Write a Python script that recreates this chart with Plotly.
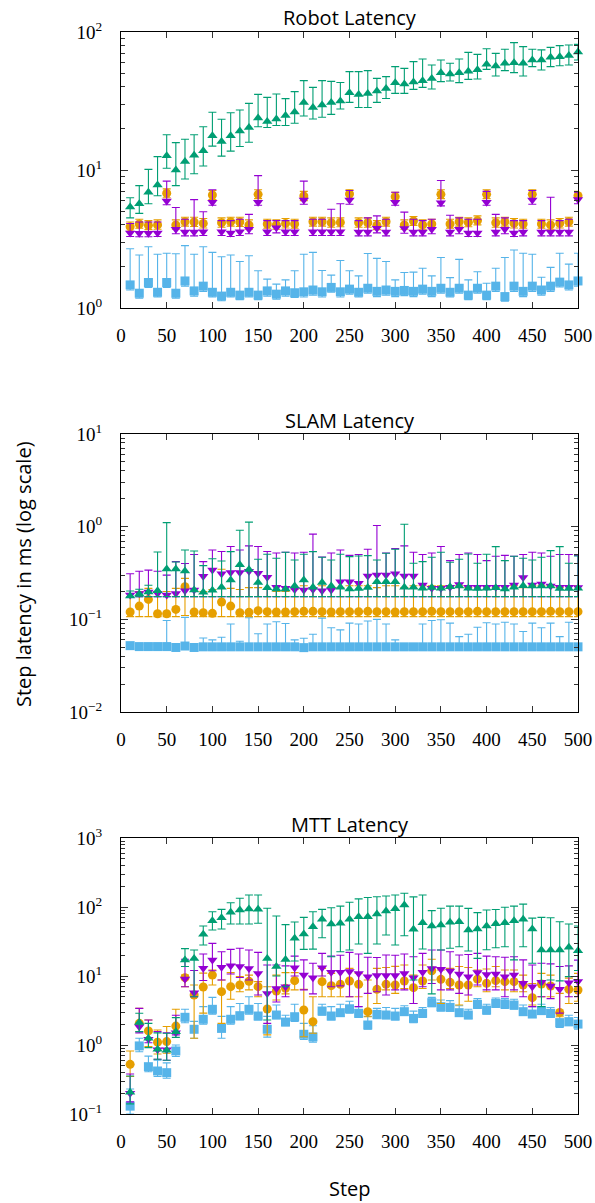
import plotly.graph_objects as go

STEPS = [10, 20, 30, 40, 50, 60, 70, 80, 90, 100, 110, 120, 130, 140, 150, 160, 170, 180, 190, 200,
         210, 220, 230, 240, 250, 260, 270, 280, 290, 300, 310, 320, 330, 340, 350, 360, 370, 380, 390, 400,
         410, 420, 430, 440, 450, 460, 470, 480, 490, 500]
X_TICKS = [0, 50, 100, 150, 200, 250, 300, 350, 400, 450, 500]
TITLES = ["Robot Latency", "SLAM Latency", "MTT Latency"]
Y_LABEL = "Step latency in ms (log scale)"
X_LABEL = "Step"

# ---------------- Robot Latency ----------------
ROBOT_GREEN = [5.4, 5.7, 6.9, 7.8, 12.7, 10, 11.5, 12.8, 13.8, 17.7, 16.1, 17.7, 19.2, 20.3, 23.8, 22.5, 23.4, 24.8, 26.3, 30.8,
               28.4, 29.6, 30.9, 31.6, 36.3, 35.2, 35.9, 37.3, 39.0, 42.9, 42.0, 43.4, 44.4, 46.1, 50.7, 49.6, 50.7, 51.9, 53.3, 58.3,
               56.7, 59.3, 59.9, 59.3, 62.7, 62.7, 65.5, 66.2, 67.7, 71.6]
ROBOT_GREEN_HI = [6.3, 7.7, 10.1, 12.5, 18, 15.8, 16.7, 18, 20.6, 26.2, 23.3, 26, 27.2, 30.4, 35.3, 33.6, 35.5, 32.9, 37, 44.4,
                  39.7, 44.4, 43.9, 43.1, 51.6, 51.6, 52.5, 46.1, 47.5, 56.1, 54.5, 61, 63.7, 57.7, 62.7, 59.3, 63.7, 71.2, 68.9, 75.7,
                  70, 75, 83.7, 78.3, 75, 74.2, 77.4, 79.6, 80.5, 81.4]
ROBOT_GREEN_LO = [4.5, 4.85, 5.7, 6.5, 10.3, 7.7, 8.6, 9.4, 10.7, 14.9, 12.6, 13.7, 14.8, 15.9, 20.6, 20.3, 21, 21, 21.8, 24.6,
                  23.4, 24.1, 25.3, 27.7, 30.9, 28.4, 28.4, 30.9, 33, 35.9, 35.9, 38.4, 39.7, 38.6, 43.7, 44.1, 43, 45.4, 45.6, 53.6,
                  48, 52.5, 50.8, 48, 56.1, 53, 56.1, 57, 57.7, 62.7]

ROBOT_ORANGE = [3.88, 4.06, 3.97, 4.0, 6.78, 4.0, 4.22, 4.2, 4.1, 6.59, 4.15, 4.22, 4.2, 4.0, 6.66, 4.06, 4.0, 4.1, 4.06, 6.48,
                4.22, 4.22, 4.15, 4.17, 6.7, 4.15, 4.15, 3.97, 4.22, 6.41, 4.0, 4.27, 4.0, 4.06, 6.66, 4.06, 4.22, 4.17, 4.3, 6.66,
                4.15, 4.22, 4.1, 4.06, 6.66, 4.06, 4.0, 4.1, 4.22, 6.52]
ROBOT_ORANGE_HI = [4.2, 4.4, 4.3, 4.35, 7.3, 4.35, 4.55, 4.55, 4.45, 7.1, 4.5, 4.55, 4.55, 4.35, 7.2, 4.4, 4.35, 4.45, 4.4, 7.0,
                   4.55, 4.55, 4.5, 4.5, 7.2, 4.5, 4.5, 4.3, 4.55, 6.9, 4.35, 4.6, 4.35, 4.4, 7.2, 4.4, 4.55, 4.5, 4.65, 7.2,
                   4.5, 4.55, 4.45, 4.4, 7.2, 4.4, 4.35, 4.45, 4.55, 7.0]
ROBOT_ORANGE_LO = [3.6, 3.78, 3.7, 3.72, 6.3, 3.72, 3.92, 3.9, 3.8, 6.1, 3.85, 3.92, 3.9, 3.72, 6.2, 3.78, 3.72, 3.8, 3.78, 6.0,
                   3.92, 3.92, 3.85, 3.88, 6.2, 3.85, 3.85, 3.7, 3.92, 5.95, 3.72, 3.97, 3.72, 3.78, 6.2, 3.78, 3.92, 3.88, 4.0, 6.2,
                   3.85, 3.92, 3.8, 3.78, 6.2, 3.78, 3.72, 3.8, 3.92, 6.05]

ROBOT_PURPLE = [3.5, 3.48, 3.48, 3.5, 5.96, 3.72, 3.55, 3.55, 3.57, 5.84, 3.57, 3.5, 3.57, 3.72, 5.84, 3.57, 3.82, 3.57, 3.57, 6.06,
                3.57, 3.57, 3.57, 3.57, 6.06, 3.55, 3.55, 3.78, 3.55, 5.84, 3.76, 3.55, 3.55, 3.72, 5.8, 3.55, 3.72, 3.5, 3.5, 5.84,
                3.55, 3.72, 3.5, 3.55, 6.06, 3.55, 3.55, 3.55, 3.55, 6.1]
ROBOT_PURPLE_HI = [4.1, 4.2, 4.2, 4.2, 8.3, 5.35, 4.4, 6.1, 4.98, 7.2, 4.3, 4.3, 4.4, 4.77, 9.1, 4.3, 4.3, 4.3, 4.3, 8.3,
                   4.4, 4.4, 5.2, 5.7, 7.1, 4.3, 4.5, 4.65, 4.4, 6.9, 4.95, 4.4, 4.3, 4.4, 8.4, 4.7, 4.5, 4.4, 4.4, 7.0,
                   4.77, 4.5, 4.3, 4.3, 7.1, 4.3, 6.35, 4.3, 4.4, 6.9]
ROBOT_PURPLE_LO = [3.3, 3.28, 3.28, 3.3, 5.6, 3.45, 3.33, 3.33, 3.35, 5.55, 3.35, 3.3, 3.35, 3.45, 5.55, 3.35, 3.5, 3.35, 3.35, 5.65,
                   3.35, 3.35, 3.35, 3.35, 5.65, 3.33, 3.33, 3.5, 3.33, 5.55, 3.48, 3.33, 3.33, 3.45, 5.5, 3.33, 3.45, 3.3, 3.3, 5.55,
                   3.33, 3.45, 3.3, 3.33, 5.65, 3.33, 3.33, 3.33, 3.33, 5.7]

ROBOT_BLUE = [1.47, 1.28, 1.53, 1.30, 1.53, 1.28, 1.57, 1.33, 1.44, 1.30, 1.22, 1.30, 1.24, 1.30, 1.24, 1.33, 1.26, 1.33, 1.29, 1.31,
              1.35, 1.31, 1.41, 1.31, 1.37, 1.30, 1.39, 1.32, 1.35, 1.32, 1.34, 1.32, 1.37, 1.32, 1.39, 1.30, 1.39, 1.24, 1.39, 1.24,
              1.44, 1.21, 1.44, 1.32, 1.44, 1.35, 1.44, 1.54, 1.47, 1.57]
ROBOT_BLUE_HI = [2.69, 2.42, 2.78, 2.45, 2.49, 2.47, 2.83, 2.45, 2.78, 2.53, 2.35, 2.42, 2.17, 2.39, 1.86, 1.62, 1.49, 1.6, 1.86, 2.45,
                 2.53, 1.87, 1.73, 2.21, 1.86, 1.71, 2.48, 2.29, 2.17, 1.6, 1.81, 1.82, 1.94, 1.71, 2.32, 1.66, 2.25, 1.6, 1.83, 1.51,
                 1.94, 2.32, 2.63, 2.49, 2.45, 1.67, 1.97, 2.49, 2.08, 2.49]
ROBOT_BLUE_LO = [1.35, 1.18, 1.41, 1.2, 1.41, 1.18, 1.44, 1.22, 1.32, 1.2, 1.13, 1.2, 1.15, 1.2, 1.15, 1.22, 1.16, 1.22, 1.19, 1.2,
                 1.24, 1.2, 1.3, 1.2, 1.26, 1.2, 1.28, 1.21, 1.24, 1.21, 1.23, 1.21, 1.26, 1.21, 1.28, 1.2, 1.28, 1.15, 1.28, 1.15,
                 1.32, 1.12, 1.32, 1.21, 1.32, 1.24, 1.32, 1.42, 1.35, 1.44]

# ---------------- SLAM Latency ----------------
SLAM_GREEN = [0.179, 0.188, 0.197, 0.204, 0.349, 0.349, 0.333, 0.207, 0.196, 0.206, 0.222, 0.266, 0.389, 0.346, 0.249, 0.219, 0.213, 0.213, 0.229, 0.266,
              0.222, 0.249, 0.229, 0.222, 0.213, 0.215, 0.22, 0.255, 0.255, 0.255, 0.222, 0.222, 0.217, 0.22, 0.217, 0.225, 0.229, 0.217, 0.215, 0.217,
              0.219, 0.213, 0.222, 0.231, 0.229, 0.229, 0.229, 0.215, 0.215, 0.217]
SLAM_GREEN_HI = [0.202, 0.211, 0.233, 0.533, 1.105, 0.416, 0.56, 0.547, 0.38, 0.45, 0.426, 0.538, 0.914, 1.12, 0.445, 0.503, 0.456, 0.529, 0.437, 0.503,
                 0.538, 0.467, 0.437, 0.503, 0.475, 0.483, 0.487, 0.437, 0.516, 0.57, 1.06, 0.403, 0.42, 0.467, 0.529, 0.413, 0.445, 0.507, 0.403, 0.503,
                 0.609, 0.43, 0.479, 0.456, 0.437, 0.467, 0.551, 0.609, 0.403, 0.483]
SLAM_GREEN_LO = [0.172, 0.175, 0.176, 0.176, 0.176, 0.176, 0.176, 0.176, 0.176, 0.176, 0.176, 0.176, 0.176, 0.176, 0.176, 0.176, 0.176, 0.176, 0.176, 0.176,
                 0.176, 0.176, 0.176, 0.176, 0.176, 0.176, 0.176, 0.176, 0.176, 0.176, 0.176, 0.176, 0.176, 0.176, 0.176, 0.176, 0.176, 0.176, 0.176, 0.176,
                 0.176, 0.176, 0.176, 0.176, 0.176, 0.176, 0.176, 0.176, 0.176, 0.176]

SLAM_ORANGE = [0.12, 0.139, 0.164, 0.115, 0.115, 0.128, 0.225, 0.12, 0.118, 0.116, 0.154, 0.139, 0.118, 0.119, 0.124, 0.121, 0.12, 0.12, 0.121, 0.122,
               0.122, 0.121, 0.12, 0.121, 0.121, 0.121, 0.122, 0.121, 0.121, 0.12, 0.121, 0.121, 0.121, 0.122, 0.121, 0.121, 0.121, 0.121, 0.122, 0.121,
               0.121, 0.121, 0.121, 0.121, 0.121, 0.121, 0.122, 0.121, 0.121, 0.121]
SLAM_ORANGE_HI = [0.19, 0.2, 0.216, 0.2, 0.2, 0.216, 0.277, 0.2, 0.2, 0.21, 0.347, 0.216, 0.21, 0.22, 0.22, 0.21, 0.2, 0.2, 0.21, 0.23,
                  0.22, 0.23, 0.22, 0.22, 0.23, 0.23, 0.23, 0.22, 0.23, 0.23, 0.22, 0.23, 0.23, 0.23, 0.23, 0.23, 0.23, 0.22, 0.23, 0.23,
                  0.22, 0.23, 0.23, 0.22, 0.23, 0.23, 0.23, 0.22, 0.23, 0.23]
SLAM_ORANGE_LO = [0.107, 0.107, 0.107, 0.107, 0.107, 0.107, 0.11, 0.107, 0.107, 0.107, 0.107, 0.107, 0.107, 0.107, 0.107, 0.107, 0.107, 0.107, 0.107, 0.107,
                  0.107, 0.107, 0.107, 0.107, 0.107, 0.107, 0.107, 0.107, 0.107, 0.107, 0.107, 0.107, 0.107, 0.107, 0.107, 0.107, 0.107, 0.107, 0.107, 0.107,
                  0.107, 0.107, 0.107, 0.107, 0.107, 0.107, 0.107, 0.107, 0.107, 0.107]

SLAM_PURPLE = [0.183, 0.19, 0.197, 0.19, 0.183, 0.19, 0.204, 0.207, 0.291, 0.34, 0.311, 0.32, 0.32, 0.33, 0.315, 0.284, 0.222, 0.217, 0.21, 0.207,
               0.21, 0.204, 0.207, 0.255, 0.255, 0.245, 0.294, 0.3, 0.3, 0.31, 0.294, 0.294, 0.235, 0.217, 0.217, 0.222, 0.238, 0.222, 0.222, 0.222,
               0.222, 0.222, 0.235, 0.282, 0.235, 0.24, 0.229, 0.222, 0.222, 0.22]
SLAM_PURPLE_HI = [0.31, 0.33, 0.34, 0.33, 0.30, 0.42, 0.40, 0.5, 0.42, 0.56, 0.54, 0.61, 0.56, 0.62, 0.61, 0.54, 0.52, 0.53, 0.52, 0.53,
                  0.83, 0.47, 0.52, 0.56, 0.49, 0.5, 0.57, 1.03, 0.52, 0.58, 0.62, 0.53, 0.5, 0.52, 0.61, 0.43, 0.5, 0.52, 0.5, 0.43,
                  0.48, 0.49, 0.48, 0.5, 0.53, 0.52, 0.48, 0.5, 0.5, 0.49]
SLAM_PURPLE_LO = [0.175, 0.176, 0.176, 0.176, 0.176, 0.176, 0.176, 0.176, 0.176, 0.176, 0.176, 0.176, 0.176, 0.176, 0.176, 0.176, 0.176, 0.176, 0.176, 0.176,
                  0.176, 0.176, 0.176, 0.176, 0.176, 0.176, 0.176, 0.176, 0.176, 0.176, 0.176, 0.176, 0.176, 0.176, 0.176, 0.176, 0.176, 0.176, 0.176, 0.176,
                  0.176, 0.176, 0.176, 0.176, 0.176, 0.176, 0.176, 0.176, 0.176, 0.176]

SLAM_BLUE = [0.052, 0.0508, 0.0508, 0.0508, 0.0508, 0.0497, 0.0515, 0.0497, 0.0505, 0.0505, 0.0505, 0.0505, 0.0505, 0.0505, 0.0505, 0.0505, 0.0505, 0.0505, 0.0505, 0.0495,
             0.0505, 0.0505, 0.0505, 0.0505, 0.0505, 0.0505, 0.0505, 0.0505, 0.0505, 0.0505, 0.0505, 0.0505, 0.0505, 0.0505, 0.0505, 0.0505, 0.0505, 0.0505, 0.0505, 0.0505,
             0.0505, 0.0505, 0.0505, 0.0505, 0.0505, 0.0505, 0.0505, 0.0505, 0.0505, 0.0505]
SLAM_BLUE_HI = [0.055, 0.054, 0.054, 0.054, 0.097, 0.054, 0.105, 0.052, 0.063, 0.06, 0.064, 0.089, 0.058, 0.104, 0.07, 0.089, 0.094, 0.09, 0.06, 0.0625,
                0.069, 0.103, 0.081, 0.077, 0.091, 0.089, 0.096, 0.1, 0.089, 0.06, 0.053, 0.053, 0.089, 0.097, 0.099, 0.091, 0.065, 0.069, 0.082, 0.092,
                0.089, 0.093, 0.089, 0.074, 0.091, 0.081, 0.091, 0.065, 0.093, 0.053]
SLAM_BLUE_LO = [0.048, 0.047, 0.047, 0.047, 0.047, 0.046, 0.048, 0.046, 0.047, 0.047, 0.047, 0.047, 0.047, 0.047, 0.047, 0.047, 0.047, 0.047, 0.047, 0.046,
                0.047, 0.047, 0.047, 0.047, 0.047, 0.047, 0.047, 0.047, 0.047, 0.047, 0.047, 0.047, 0.047, 0.047, 0.047, 0.047, 0.047, 0.047, 0.047, 0.047,
                0.047, 0.047, 0.047, 0.047, 0.047, 0.047, 0.047, 0.047, 0.047, 0.047]

# ---------------- MTT Latency ----------------
MTT_GREEN = [0.206, 2.11, 1.25, 0.865, 0.837, 1.56, 17.1, 18, 40.2, 63.4, 70, 83.7, 90.5, 93.6, 93, 18, 13.7, 17.4, 35.2, 40.6,
             51.9, 66.2, 56.7, 58, 66.2, 72.4, 72.4, 79.2, 87.5, 94.6, 107, 47.5, 59.3, 53, 54.8, 60, 61.3, 46.4, 48, 53,
             57.3, 59.3, 63.4, 66.2, 48, 23.8, 23.8, 23.8, 26, 23.3]
MTT_GREEN_HI = [0.355, 2.88, 2.06, 1.5, 1.48, 2.49, 24.9, 23.8, 53, 85.5, 92.5, 115, 134, 149, 149, 95.7, 74, 55.5, 60.6, 70.8,
                85.5, 92.5, 97.7, 103, 117, 131, 137, 141, 144, 149, 158, 140, 149, 88.5, 95.7, 103, 103, 95.5, 82.8, 90.5,
                92, 99, 103, 110, 69, 70.7, 70, 61, 56.7, 53]
MTT_GREEN_LO = [0.14, 1.56, 0.915, 0.62, 0.6, 1.29, 13.7, 5.0, 28.1, 46.4, 48, 56.7, 56.7, 56.7, 58, 2.3, 10, 7, 16.5, 24.3,
                24.5, 35.9, 19, 22.5, 23.8, 29.1, 21.3, 29.1, 39.3, 28.1, 38.4, 8.75, 24.6, 5.5, 23.8, 25.2, 26.6, 23, 18, 24,
                25.7, 26.6, 17.1, 26.6, 15.3, 3.6, 8.75, 8.5, 9.8, 12]

MTT_ORANGE = [0.525, 2.06, 1.6, 1.1, 1.12, 1.88, 9.46, 5.3, 6.93, 10.3, 5.93, 7.0, 7.41, 8.37, 7.0, 3.32, 6.06, 6.63, 8.56, 3.21,
              2.18, 8.28, 7.24, 7.57, 8.47, 7.57, 3.04, 6.41, 7.57, 7.41, 8.47, 6.78, 8.47, 11.9, 8.95, 8.1, 7.41, 7.41, 9.0, 7.83,
              8.56, 8.28, 8.28, 7.41, 4.85, 7.66, 7.16, 2.97, 6.41, 6.27]
MTT_ORANGE_HI = [0.82, 3.4, 2.3, 1.65, 1.85, 3.3, 10.3, 7.4, 11, 12.2, 8.75, 11.2, 9.8, 10.3, 8.3, 7, 10.3, 11.2, 11.2, 6.4,
                 5, 12.9, 10.9, 12, 12.9, 10.9, 8.75, 12.9, 13.3, 13.8, 14.4, 10.3, 14.4, 17.5, 12.2, 12.9, 13.7, 13.3, 12.2, 12.6,
                 13.7, 12.2, 12.2, 10.3, 7.8, 10.9, 10.3, 5.6, 9.3, 10.9]
MTT_ORANGE_LO = [0.35, 1.56, 0.95, 0.74, 0.76, 1.48, 7, 1.25, 2.9, 7.4, 2.06, 4.6, 5.9, 6.3, 5, 1.4, 4.5, 5.5, 6.3, 1.32,
                 1.48, 5, 5, 5, 5, 5, 2.57, 4.0, 6.3, 5.6, 6.6, 4.0, 6.6, 8.75, 4.0, 6.6, 3.8, 4.3, 7.0, 5.9,
                 7.0, 6.3, 5.9, 5.9, 3.8, 5, 5, 2.57, 4.0, 4.3]

MTT_PURPLE = [0.2, 1.84, 1.21, 0.85, 0.85, 1.51, 9.05, 5.73, 12.9, 17.1, 13.4, 14.1, 13.7, 12.8, 10.9, 5.6, 6.6, 7.0, 13.2, 10.3,
              9.46, 13.2, 11.3, 11.3, 11.6, 10.9, 9.78, 10.2, 10.2, 10.2, 10.9, 9.46, 11.3, 12.8, 12.5, 11.8, 10.7, 9.78, 11.2, 10.5,
              10.7, 9.78, 10.3, 7.83, 7.0, 8.1, 7.16, 6.41, 8.0, 8.3]
MTT_PURPLE_HI = [0.38, 3.4, 2.3, 1.56, 1.5, 2.7, 17.5, 12, 20.8, 29.7, 22.5, 24.3, 25.2, 23.8, 22, 14.4, 14.4, 14, 19.4, 17.1,
                 15.3, 21.3, 19.4, 20, 22, 20.8, 18.7, 18.5, 20.2, 20, 20.8, 19, 21.3, 23.8, 23.8, 22.5, 20.2, 20.5, 21.3, 19.4,
                 19, 18.7, 19, 17.1, 14.4, 15.3, 15, 13.7, 14, 17]
MTT_PURPLE_LO = [0.15, 1.5, 1.08, 0.62, 0.6, 1.4, 7, 5, 8.6, 11.9, 8.75, 10.7, 9.5, 8.75, 5.3, 2.06, 4.2, 5, 10, 6.3,
                 5.5, 10, 7, 7.2, 5, 3.6, 5.6, 5.9, 5.3, 6.3, 6.3, 4.0, 7, 7.8, 6.3, 6.3, 5.6, 5.3, 7.4, 6.3,
                 6.3, 5.0, 6.3, 5.0, 3.6, 5.0, 4.7, 2.9, 5.0, 5.0]

MTT_BLUE = [0.13, 0.97, 0.485, 0.42, 0.397, 0.82, 2.52, 1.69, 2.36, 3.29, 1.74, 2.36, 2.66, 3.29, 2.63, 1.69, 2.72, 2.15, 2.57, 1.43,
            1.31, 3.11, 2.63, 2.94, 3.35, 2.88, 1.95, 2.78, 2.72, 2.63, 3.04, 2.43, 2.88, 4.11, 3.59, 3.51, 2.94, 2.72, 3.88, 3.21,
            4.02, 3.93, 3.8, 3.04, 2.81, 3.15, 2.88, 2.11, 2.18, 2.01]
MTT_BLUE_HI = [0.23, 1.25, 0.69, 0.6, 0.55, 1.0, 3.3, 2.2, 3.6, 4.9, 2.6, 3.6, 4.0, 5.0, 4.0, 2.6, 3.8, 2.7, 3.9, 2.06,
               1.9, 3.9, 3.6, 3.9, 4.3, 3.6, 2.6, 3.4, 3.5, 3.4, 3.7, 3.1, 3.5, 4.9, 4.5, 4.4, 3.7, 3.3, 4.7, 3.9,
               4.8, 4.7, 4.6, 3.8, 3.6, 3.9, 3.5, 2.7, 2.7, 2.5]
MTT_BLUE_LO = [0.1, 0.8, 0.41, 0.35, 0.33, 0.68, 2.1, 1.25, 2.0, 2.8, 1.25, 2.0, 2.3, 2.8, 2.3, 1.3, 2.4, 1.9, 2.2, 1.2,
               1.1, 2.7, 2.3, 2.6, 2.9, 2.5, 1.7, 2.4, 2.4, 2.3, 2.7, 2.1, 2.5, 3.6, 3.1, 3.1, 2.6, 2.4, 3.4, 2.8,
               3.5, 3.4, 3.3, 2.7, 2.5, 2.8, 2.5, 1.8, 1.9, 1.7]

GREEN = "#009E73"
PURPLE = "#9400D3"
ORANGE = "#E69F00"
BLUE = "#56B4E9"

W, H = 595, 1203
X0, X1 = 121, 578
PANELS = [(32, 308, (0, 2)), (434, 712, (-2, 1)), (838, 1114, (-1, 3))]
TITLE_Y = [17, 421, 824]


def px(x):
    return x / W


def py(y):
    return 1 - y / H


fig = go.Figure()


def add_series(vals, hi, lo, color, symbol, idx):
    up = [h - v for h, v in zip(hi, vals)]
    dn = [v - l for v, l in zip(vals, lo)]
    sfx = "" if idx == 1 else str(idx)
    fig.add_trace(go.Scatter(
        x=STEPS, y=vals, mode="markers",
        marker=dict(symbol=symbol, color=color, size=9, line=dict(width=0)),
        error_y=dict(type="data", symmetric=False, array=up, arrayminus=dn,
                     color=color, thickness=1.1, width=4),
        xaxis="x" + sfx, yaxis="y" + sfx, cliponaxis=False, showlegend=False,
    ))


panel_data = [
    (ROBOT_BLUE, ROBOT_BLUE_HI, ROBOT_BLUE_LO, ROBOT_ORANGE, ROBOT_ORANGE_HI, ROBOT_ORANGE_LO,
     ROBOT_PURPLE, ROBOT_PURPLE_HI, ROBOT_PURPLE_LO, ROBOT_GREEN, ROBOT_GREEN_HI, ROBOT_GREEN_LO),
    (SLAM_BLUE, SLAM_BLUE_HI, SLAM_BLUE_LO, SLAM_ORANGE, SLAM_ORANGE_HI, SLAM_ORANGE_LO,
     SLAM_PURPLE, SLAM_PURPLE_HI, SLAM_PURPLE_LO, SLAM_GREEN, SLAM_GREEN_HI, SLAM_GREEN_LO),
    (MTT_BLUE, MTT_BLUE_HI, MTT_BLUE_LO, MTT_ORANGE, MTT_ORANGE_HI, MTT_ORANGE_LO,
     MTT_PURPLE, MTT_PURPLE_HI, MTT_PURPLE_LO, MTT_GREEN, MTT_GREEN_HI, MTT_GREEN_LO),
]

for i, d in enumerate(panel_data, start=1):
    add_series(d[0], d[1], d[2], BLUE, "square", i)
    add_series(d[3], d[4], d[5], ORANGE, "circle", i)
    add_series(d[6], d[7], d[8], PURPLE, "triangle-down", i)
    add_series(d[9], d[10], d[11], GREEN, "triangle-up", i)

TICK_FONT = dict(family="Liberation Serif", size=19, color="black")
SANS = "Open Sans"
layout = dict(width=W, height=H, autosize=False, margin=dict(l=0, r=0, t=0, b=0, autoexpand=False),
              paper_bgcolor="white", plot_bgcolor="white", showlegend=False)

annotations = []
for i, (top, bot, (lo, hi)) in enumerate(PANELS, start=1):
    sfx = "" if i == 1 else str(i)
    major = [10 ** k for k in range(lo, hi + 1)]
    major_text = ["10<sup>%s</sup>" % (str(k) if k >= 0 else "\u2212" + str(-k)) for k in range(lo, hi + 1)]
    minor = [m * 10 ** k for k in range(lo, hi) for m in range(2, 10)]
    layout["xaxis" + sfx] = dict(
        domain=[px(X0), px(X1)], anchor="y" + sfx, range=[0, 500], automargin=False,
        tickmode="array", tickvals=X_TICKS, ticks="inside", ticklen=6, tickwidth=1,
        tickcolor="#333", showline=True, linecolor="black", linewidth=1.2, mirror="ticks",
        showgrid=False, zeroline=False, tickfont=TICK_FONT, ticklabelstandoff=10,
    )
    layout["yaxis" + sfx] = dict(
        domain=[py(bot), py(top)], anchor="x" + sfx, type="log", range=[lo, hi],
        automargin=False,
        tickmode="array", tickvals=major, ticktext=major_text, ticks="inside", ticklen=7,
        tickwidth=1, tickcolor="#333", showline=True, linecolor="black", linewidth=1.2,
        mirror="ticks", showgrid=False, zeroline=False, tickfont=TICK_FONT,
        ticklabelstandoff=14,
        minor=dict(tickmode="array", tickvals=minor, ticks="inside", ticklen=4,
                   tickwidth=1, tickcolor="#333", showgrid=False),
    )
    annotations.append(dict(text=TITLES[i - 1], x=px((X0 + X1) / 2), y=py(TITLE_Y[i - 1]),
                            xref="paper", yref="paper", xanchor="center", yanchor="middle",
                            showarrow=False, font=dict(family=SANS, size=20, color="black")))

annotations.append(dict(text=Y_LABEL, x=px(23), y=py(574), xref="paper", yref="paper",
                        xanchor="center", yanchor="middle", textangle=-90, showarrow=False,
                        font=dict(family=SANS, size=20, color="black")))
annotations.append(dict(text=X_LABEL, x=px((X0 + X1) / 2), y=py(1188), xref="paper", yref="paper",
                        xanchor="center", yanchor="middle", showarrow=False,
                        font=dict(family=SANS, size=20, color="black")))
layout["annotations"] = annotations
fig.update_layout(**layout)
fig.write_html(
    "out.html",
    config={"displayModeBar": False},
    post_script="document.body.style.margin='0';document.body.style.padding='0';"
                "document.body.style.overflow='hidden';",
)
